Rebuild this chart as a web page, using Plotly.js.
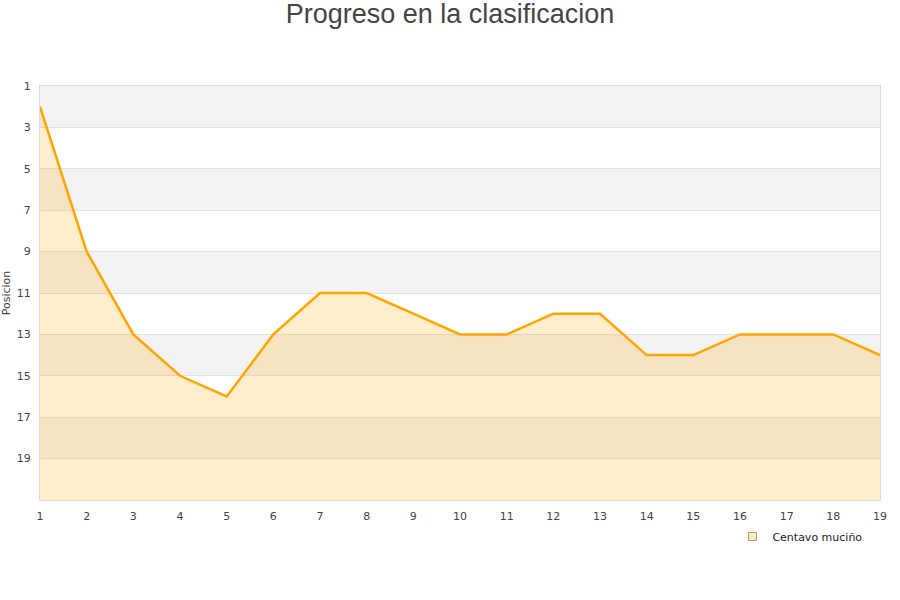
<!DOCTYPE html>
<html>
<head>
<meta charset="utf-8">
<script src="https://cdn.plot.ly/plotly-3.0.1.min.js"></script>
<style>html,body{margin:0;padding:0;background:#fff;}#chart{width:900px;height:600px;}</style>
</head>
<body>
<div id="chart"></div>
<script>
const jornadas = [1,2,3,4,5,6,7,8,9,10,11,12,13,14,15,16,17,18,19];
const posiciones = [2,9,13,15,16,13,11,11,12,13,13,12,12,14,14,13,13,13,14];
const ultimaPosicion = 21;
const bandas = [[1,3],[5,7],[9,11],[13,15],[17,19]];
const serieNombre = 'Centavo muciño';

const base = jornadas.map(() => ultimaPosicion);

const shapes = bandas.map(b => ({
  type: 'rect', xref: 'paper', yref: 'y', x0: 0, x1: 1, y0: b[0], y1: b[1],
  fillcolor: '#F3F3F3', line: {width: 0}, layer: 'below'
}));

const traces = [
  {x: jornadas, y: base, mode: 'lines', line: {width: 0}, hoverinfo: 'skip', showlegend: false},
  {x: jornadas, y: posiciones, mode: 'lines', fill: 'tonexty', fillcolor: 'rgba(255,165,0,0.2)',
   line: {color: '#FFA500', width: 2.5}, showlegend: false, name: serieNombre},
  {x: [null], y: [null], mode: 'markers', name: serieNombre,
   marker: {symbol: 'square', size: 8, color: '#FFEDCC', line: {color: '#B89060', width: 1}}}
];

const layout = {
  width: 900, height: 600,
  margin: {l: 40, r: 20, t: 86, b: 100},
  paper_bgcolor: '#fff', plot_bgcolor: '#fff',
  font: {family: 'DejaVu Sans, sans-serif', size: 11, color: '#444'},
  title: {text: 'Progreso en la clasificacion', x: 0.5, xanchor: 'center', y: 0.993, yanchor: 'top',
          font: {family: 'Liberation Sans, Arial, sans-serif', size: 27, color: '#444'}},
  xaxis: {range: [1, 19], tickvals: jornadas, showgrid: false, zeroline: false,
          showline: true, linecolor: '#DDDDDD', mirror: true, ticks: 'outside', ticklen: 6,
          tickcolor: 'rgba(0,0,0,0)', tickfont: {size: 11, color: '#444'}},
  yaxis: {range: [ultimaPosicion, 1], tickvals: [1,3,5,7,9,11,13,15,17,19], showgrid: true,
          gridcolor: '#E2E2E2', zeroline: false, showline: true, linecolor: '#DDDDDD', mirror: true,
          ticks: 'outside', ticklen: 6, tickcolor: 'rgba(0,0,0,0)', tickfont: {size: 11, color: '#444'},
          title: {text: 'Posicion', font: {size: 11, color: '#444'}, standoff: 4}},
  shapes: shapes,
  showlegend: true,
  legend: {orientation: 'h', x: 0.985, xanchor: 'right', y: -0.053, yanchor: 'top',
           bgcolor: 'rgba(255,255,255,0)', font: {size: 11, color: '#222'}}
};

Plotly.newPlot('chart', traces, layout, {displayModeBar: false, staticPlot: true});
</script>
</body>
</html>
